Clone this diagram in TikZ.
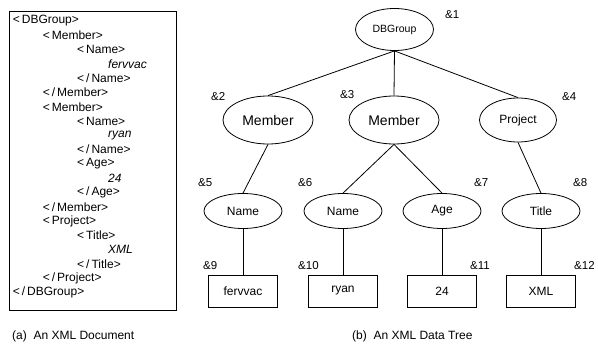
\documentclass[tikz,border=0pt]{standalone}
\usepackage{fontspec}
\setmainfont{Liberation Sans}
\usetikzlibrary{shapes.geometric}
\begin{document}
\begin{tikzpicture}[x=1pt,y=-1pt,
  elem/.style={ellipse, draw, line width=0.8pt, inner sep=0pt,
    minimum width=78pt, minimum height=35pt, font=\fontsize{12}{14}\selectfont},
  leaf/.style={rectangle, draw, line width=0.8pt, inner sep=0pt,
    minimum width=69pt, minimum height=32pt, font=\fontsize{12}{14}\selectfont},
  oid/.style={anchor=west, inner sep=0pt, font=\fontsize{11.5}{13}\selectfont},
  tagline/.style={anchor=west, inner sep=0pt, font=\fontsize{12}{14}\selectfont},
  caption/.style={anchor=west, inner sep=0pt, font=\fontsize{12}{14}\selectfont},
  link/.style={line width=0.8pt}]
\useasboundingbox (0,0) rectangle (598,345);

% ---- the XML document, one line per node ----
\node[draw, line width=0.8pt, anchor=north west, inner sep=0pt,
      minimum width=167pt, minimum height=299pt] (doc) at (9,11) {};
\foreach \i/\x/\txt in {
   1/12.7/{<\,DBGroup>},
   2/42.7/{<\,Member>},
   3/77/{<\,Name>},
   4/108/{\itshape fervvac},
   5/77/{<\,/\,Name>},
   6/42.7/{<\,/\,Member>},
   7/42.7/{<\,Member>},
   8/77/{<\,Name>},
   9/108/{\itshape ryan},
  10/77/{<\,/\,Name>},
  11/77/{<\,Age>},
  12/108/{\itshape 24},
  13/77/{<\,/\,Age>},
  14/42.7/{<\,/\,Member>},
  15/42.7/{<\,Project>},
  16/77/{<\,Title>},
  17/108/{\itshape XML},
  18/77/{<\,/\,Title>},
  19/42.7/{<\,/\,Project>},
  20/12.7/{<\,/\,DBGroup>}}
  \node[tagline] (line\i) at (\x,{21+14.3*(\i-1)}) {\txt};

% ---- the data tree ----
\node[elem, minimum width=78pt, minimum height=42pt,
      font=\fontsize{10.5}{12}\selectfont] (dbgroup) at (394.5,29.5) {DBGroup};
\node[elem, minimum width=90pt, minimum height=48pt,
      font=\fontsize{14}{16}\selectfont] (member1) at (268,120) {Member};
\node[elem, minimum width=90pt, minimum height=48pt,
      font=\fontsize{14}{16}\selectfont] (member2) at (394,120) {Member};
\node[elem, minimum width=77pt, minimum height=44pt] (project) at (518,120) {Project};

\node[elem] (name1) at (243,211) {Name};
\node[elem] (name2) at (343,211) {Name};
\node[elem] (age)   at (442,211) {Age};
\node[elem] (title) at (541,211) {Title};

\node[leaf] (v1) at (243,291) {fervvac};
\node[leaf] (v2) at (343,291) {ryan};
\node[leaf] (v3) at (442,291) {24};
\node[leaf] (v4) at (541,291) {XML};

\draw[link] (dbgroup.south) -- (member1.north);
\draw[link] (dbgroup.south) -- (member2.north);
\draw[link] (dbgroup.south) -- (project.north);
\draw[link] (member1.south) -- (name1.north);
\draw[link] (member2.south) -- (name2.north);
\draw[link] (member2.south) -- (age.north);
\draw[link] (project.south) -- (title.north);
\draw[link] (name1.south) -- (v1.north);
\draw[link] (name2.south) -- (v2.north);
\draw[link] (age.south)   -- (v3.north);
\draw[link] (title.south) -- (v4.north);

% ---- object identifiers ----
\node[oid] (o1)  at (445,15)  {\&1};
\node[oid] (o2)  at (211,97)  {\&2};
\node[oid] (o3)  at (340,95)  {\&3};
\node[oid] (o4)  at (562,97)  {\&4};
\node[oid] (o5)  at (198,183) {\&5};
\node[oid] (o6)  at (298,183) {\&6};
\node[oid] (o7)  at (474,183) {\&7};
\node[oid] (o8)  at (573,183) {\&8};
\node[oid] (o9)  at (203,266) {\&9};
\node[oid] (o10) at (298,266) {\&10};
\node[oid] (o11) at (470,266) {\&11};
\node[oid] (o12) at (574,266) {\&12};

% ---- captions ----
\node[caption] (capa) at (12,336)  {(a)~~An XML Document};
\node[caption] (capb) at (352,336) {(b)~~An XML Data Tree};
\end{tikzpicture}
\end{document}
